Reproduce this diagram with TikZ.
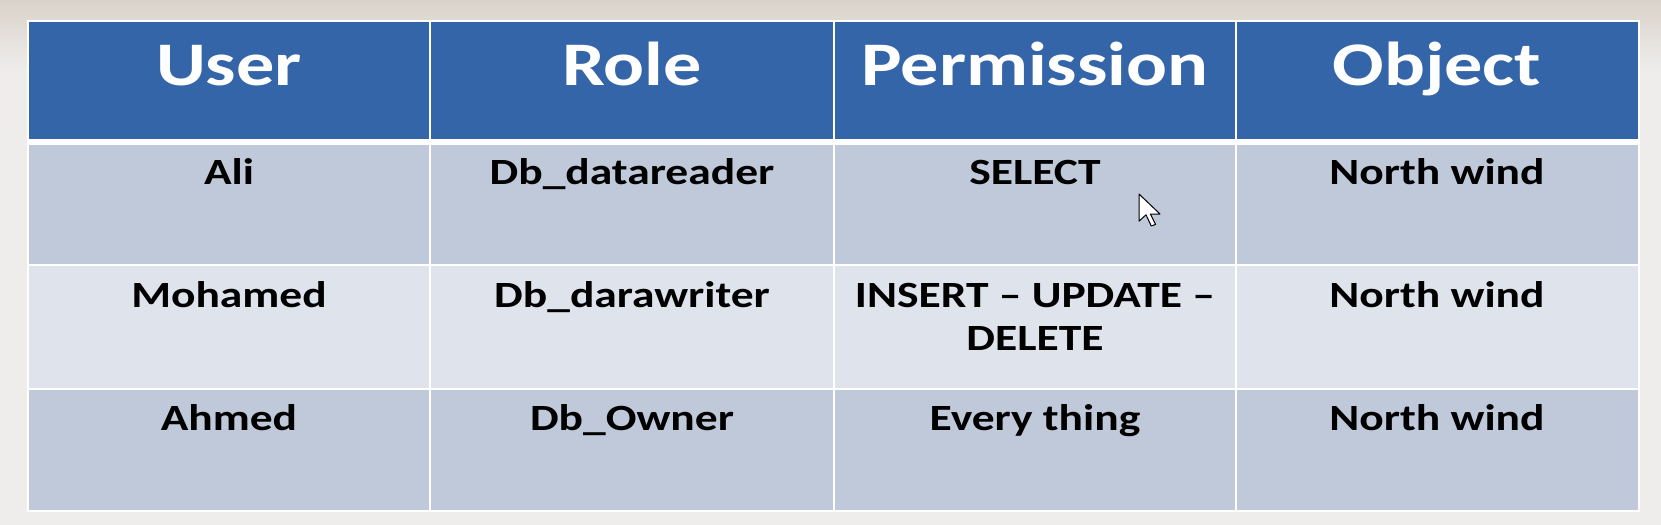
\documentclass[tikz,border=0pt]{standalone}
\usepackage{fontspec}
\setmainfont{Carlito}[FakeStretch=1.23]
\definecolor{hdr}{RGB}{52,101,168}
\definecolor{rowA}{RGB}{192,201,217}
\definecolor{rowB}{RGB}{223,227,236}
\definecolor{bg}{RGB}{238,237,236}
\definecolor{bgtop}{RGB}{218,210,202}
\begin{document}
\begin{tikzpicture}[x=0.5pt,y=-0.5pt,
  hd/.style={font=\fontsize{31}{36}\selectfont\bfseries, text=white, anchor=base, inner sep=0pt},
  cell/.style={font=\fontsize{18.5}{21.5}\selectfont\bfseries, text=black, anchor=base, inner sep=0pt},
  grid/.style={draw=white, line width=1pt}]
\useasboundingbox (0,0) rectangle (1661,525);
% background
\fill[bg] (0,0) rectangle (1661,525);
\shade[top color=bgtop, bottom color=bg] (0,0) rectangle (1661,70);
% table fills
\fill[hdr] (28,21) rectangle (1639,139);
\fill[rowA] (28,145) rectangle (1639,265);
\fill[rowB] (28,265) rectangle (1639,389);
\fill[rowA] (28,389) rectangle (1639,511);
% grid
\draw[grid] (28,21) rectangle (1639,511);
\draw[draw=white, line width=3pt] (28,142) -- (1639,142);
\draw[grid] (28,265) -- (1639,265);
\draw[grid] (28,389) -- (1639,389);
\foreach \x in {430,834,1236} \draw[grid] (\x,21) -- (\x,511);
% header
\node[hd] (hUser) at (229,85) {User};
\node[hd] (hRole) at (632,85) {Role};
\node[hd] (hPerm) at (1035,85) {Permission};
\node[hd] (hObj) at (1437,85) {Object};
% row 1
\node[cell] (u1) at (229,184) {Ali};
\node[cell] (r1) at (632,184) {Db\_datareader};
\node[cell] (p1) at (1035,184) {SELECT};
\node[cell] (o1) at (1437,184) {North wind};
% row 2
\node[cell] (u2) at (229,307) {Mohamed};
\node[cell] (r2) at (632,307) {Db\_darawriter};
\node[cell] (p2a) at (1035,307) {INSERT – UPDATE –};
\node[cell] (p2b) at (1035,350) {DELETE};
\node[cell] (o2) at (1437,307) {North wind};
% row 3
\node[cell] (u3) at (229,430) {Ahmed};
\node[cell] (r3) at (632,430) {Db\_Owner};
\node[cell] (p3) at (1035,430) {Every thing};
\node[cell] (o3) at (1437,430) {North wind};
% mouse cursor
\begin{scope}[shift={(1139,194)}, xscale=1.75, yscale=1.6]
\draw[fill=white, draw=black, line width=0.5pt, line join=round]
  (0,0) -- (0,17) -- (4,13) -- (7,20) -- (9.5,19) -- (6.5,12.5) -- (12,12.5) -- cycle;
\end{scope}
\end{tikzpicture}
\end{document}
